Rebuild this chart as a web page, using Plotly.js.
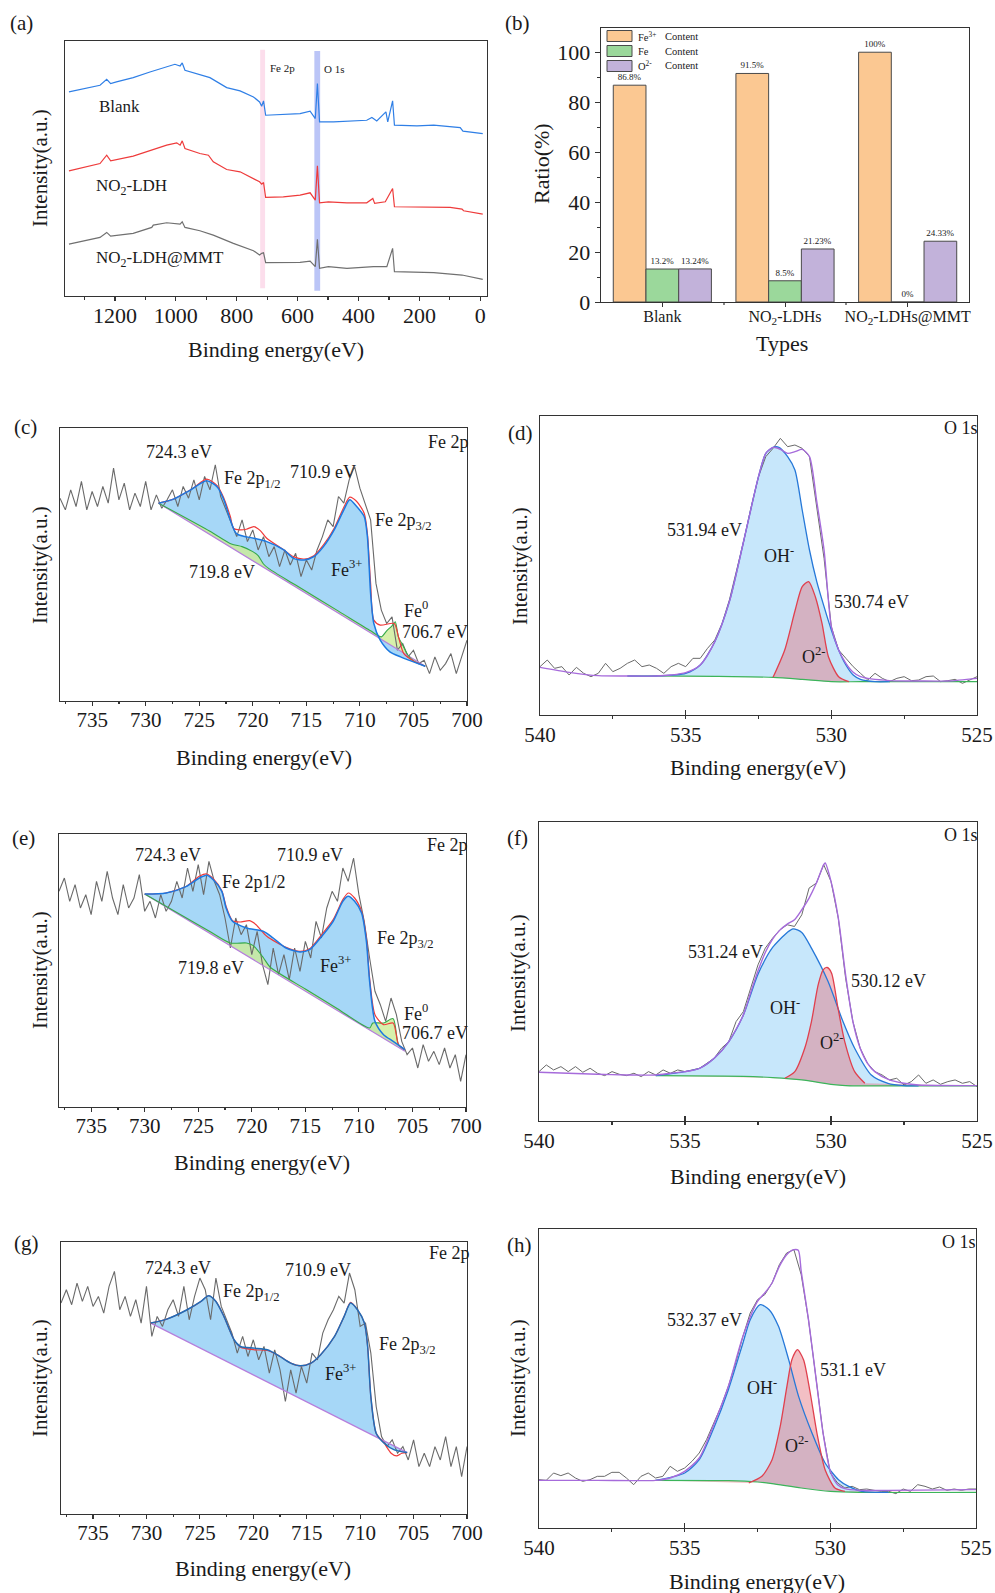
<!DOCTYPE html>
<html><head><meta charset="utf-8">
<script src="https://cdn.plot.ly/plotly-3.0.1.min.js"></script>
<style>html,body{margin:0;padding:0;background:#fff}#chart{width:995px;height:1593px}</style>
</head><body><div id="chart"></div>
<script>
// ---------------- DATA ----------------
// (a) survey spectra: binding energy (eV) / intensity (a.u.)
const A_BLANK_E = [1351,1304,1249,1227,1214,1195,1140,1085,1030,1003,986,979,970,921,888,833,789,745,725,718,712,705,647,592,559,542,535,528,482,373,356,340,310,304,288,282,208,153,66,57,-8];
const A_BLANK_I = [613,623,633,651,638,643,656,673,688,696,691,700,678,666,656,626,616,598,583,570,586,543,545,548,555,533,638,523,523,528,536,526,553,523,586,513,511,513,506,495,488];
const A_NO2_E = [1351,1249,1227,1214,1140,1085,1030,997,986,979,970,921,893,877,833,789,745,725,718,712,705,647,592,559,542,535,528,499,438,373,353,347,312,288,282,208,99,60,55,-8];
const A_NO2_I = [376,398,423,406,420,436,453,460,453,466,443,428,423,403,380,373,353,343,336,341,296,298,303,310,288,391,280,283,280,280,293,278,283,323,268,268,266,261,256,246];
const A_MMT_E = [1351,1249,1227,1214,1140,1079,1074,1030,986,979,970,921,877,811,745,725,718,712,705,592,559,542,535,528,499,438,351,307,288,282,153,60,-8];
const A_MMT_I = [156,176,191,180,188,206,213,220,216,223,206,196,183,158,136,123,128,130,100,101,105,88,170,83,88,83,88,88,143,73,70,63,50];
const A_SERIES = ['Blank','NO<sub>2</sub>-LDH','NO<sub>2</sub>-LDH@MMT'];

// (b) bar chart
const B_CATS = ['Blank','NO<sub>2</sub>-LDHs','NO<sub>2</sub>-LDHs@MMT'];
const B_FE3 = [86.8, 91.5, 100];
const B_FE = [13.2, 8.5, 0];
const B_O2 = [13.24, 21.23, 24.33];
const B_NAMES = ['Fe<sup>3+</sup>','Fe','O<sup>2-</sup>'];

// Fe 2p raw energy grid
const FE_E = [738,737.5,737,736.5,736,735.5,735,734.5,734,733.5,733,732.5,732,731.5,731,730.5,730,729.5,729,728.5,728,727.5,727,726.5,726,725.5,725,724.5,724,723.5,723,722.5,722,721.5,721,720.5,720,719.5,719,718.5,718,717.5,717,716.5,716,715.5,715,714.5,714,713.5,713,712.5,712,711.5,711,710.5,710,709.5,709,708.5,708,707.5,707,706.5,706,705.5,705,704.5,704,703.5,703,702.5,702,701.5,701,700.5,700];
// O 1s raw energy grid
const O_E = [540,539.75,539.5,539.25,539,538.75,538.5,538.25,538,537.75,537.5,537.25,537,536.75,536.5,536.25,536,535.75,535.5,535.25,535,534.75,534.5,534.25,534,533.75,533.5,533.25,533,532.75,532.5,532.25,532,531.75,531.5,531.25,531,530.75,530.5,530.25,530,529.75,529.5,529.25,529,528.75,528.5,528.25,528,527.75,527.5,527.25,527,526.75,526.5,526.25,526,525.75,525.5,525.25,525];

// (c) Fe 2p Blank
const C_RAW = [607,572,632,582,657,572,627,582,642,592,697,602,652,572,622,582,657,572,617,577,602,632,582,642,607,662,602,672,632,707,612,572,527,492,542,477,512,452,492,432,462,402,452,407,442,372,422,392,452,492,542,522,612,592,662,702,637,592,542,352,272,232,252,152,172,132,152,112,122,82,132,92,112,142,82,132,182];
const C_BG_E = [728.8, 703.9];
const C_BG_I = [592, 104];
const C_FE3_E = [728.8,727.4,725.8,724.3,723.3,722.7,722.1,721.5,719.9,718.7,717.1,716.2,715.2,714.3,713.4,712.4,711.5,710.95,710.3,709.6,709.3,709.0,708.7,708.1,707.2,706.2,705.0,703.9];
const C_FE3_I = [592,604,632,659,640,602,542,500,487,477,452,427,422,432,462,512,572,602,582,552,492,322,232,182,147,132,117,104];
const C_ENV_E = [728.8,727.4,725.8,724.3,723.3,722.7,722.1,721.8,721.2,720.6,719.9,719.3,718.7,717.1,716.2,715.2,714.3,713.4,712.4,711.5,710.95,710.3,709.6,709.3,709.0,708.7,708.1,706.8,706.4,705.9,705.0,703.9];
const C_ENV_I = [592,604,632,664,644,607,552,517,512,514,522,510,487,452,432,425,435,467,517,580,610,597,562,502,352,242,227,232,192,142,120,104];
const C_GRN_E = [728.8,724,722,721,720,719.5,719,718.5,716,712,709,708,707.5,707,706.7,706.4,706.0,705.5,705,703.9];
const C_GRN_I = [592,508,470,462,447,435,410,396,347,269,210,192,210,225,237,192,167,137,120,104];

// (e) Fe 2p NO2-LDHs
const E_RAW = [647,687,617,667,597,637,577,677,617,707,627,577,667,597,627,697,587,617,567,637,587,617,677,627,717,647,727,637,737,677,637,567,477,567,517,547,457,527,427,367,477,397,457,382,477,407,497,447,557,507,597,647,617,717,677,747,637,557,447,347,307,257,327,277,197,157,177,117,187,137,167,127,177,117,157,77,157];
const E_BG_E = [730.0, 705.7];
const E_BG_I = [639, 167];
const E_FE3_E = [730.0,728.0,726.1,724.9,724.2,723.6,722.8,722.4,721.8,720.5,718.9,718.0,716.8,715.5,714.6,713.6,712.4,711.5,711.0,710.4,709.75,709.3,709.0,708.5,707.7,706.8,705.7];
const E_FE3_I = [639,642,662,687,695,682,647,597,557,537,527,507,477,465,472,507,557,617,632,617,582,497,377,257,217,197,172];
const E_ENV_E = [730.0,728.0,726.1,724.9,724.2,723.6,722.8,722.4,721.8,721.1,720.2,719.6,718.6,716.8,715.5,714.6,713.6,712.4,711.5,711.0,710.4,709.75,709.3,709.0,708.5,707.7,706.8,706.3,705.7];
const E_ENV_I = [639,642,662,692,699,685,649,602,559,555,559,547,512,479,467,475,512,562,622,642,627,587,507,387,277,247,252,187,172];
const E_GRN_E = [730.0,724,722,720.5,719.9,718.9,718.3,715,712,709,708.7,707.7,706.8,706.3,705.7];
const E_GRN_I = [639,528,492,492,485,447,420,354,295,237,252,252,265,187,172];

// (g) Fe 2p NO2-LDHs@MMT
const G_RAW = [632,672,627,692,637,682,622,652,602,682,727,612,652,592,642,572,682,532,592,562,612,642,592,682,582,652,707,672,582,707,622,582,542,482,532,472,522,462,502,422,492,432,337,432,362,442,392,482,462,542,582,612,652,632,722,672,562,572,482,322,232,202,222,182,202,162,222,142,182,142,202,162,232,142,202,112,202];
const G_BG_E = [729.6, 705.6];
const G_BG_I = [572, 184];
const G_FE3_E = [729.6,728.1,726.2,724.9,724.2,723.5,722.75,721.8,721.2,719.9,718.7,717.75,716.5,715.6,714.6,713.7,712.4,711.5,710.9,710.25,709.6,709.3,709.0,708.5,707.75,706.8,705.6];
const G_FE3_I = [572,584,612,637,654,637,592,522,502,497,492,477,452,444,452,477,532,592,632,612,572,502,352,242,212,192,184];
const G_ENV_E = [729.6,728.1,726.2,724.9,724.2,723.5,722.75,721.8,721.2,719.9,718.7,717.75,716.5,715.6,714.6,713.7,712.4,711.5,710.9,710.25,709.6,709.3,709.0,708.5,707.75,707.1,706.6,706.1,705.6];
const G_ENV_I = [572,584,612,637,654,637,592,522,500,492,490,477,452,444,452,477,532,592,634,612,572,502,352,242,212,182,174,182,184];

// (d) O 1s Blank
const D_RAW = [145,165,140,145,120,143,125,115,125,155,130,140,155,165,145,150,140,125,145,155,145,170,170,200,225,275,345,435,525,625,715,775,800,830,805,810,800,775,615,470,265,195,170,145,125,105,125,110,100,110,115,103,105,115,117,100,103,107,95,105,115];
const D_ENV_E = [540,539,538,537,536,535.5,535,534.5,534,533.5,533,532.5,532.25,532,531.75,531.5,531.25,531,530.75,530.5,530.25,530,529.75,529.5,529.25,529,528,527,526,525];
const D_ENV_I = [143,128,118,117,117,120,127,150,220,340,525,715,785,803,797,785,790,797,775,640,495,265,195,155,128,115,103,102,102,110];
const D_BG_E = [537,536,534,532,531,530,529,525];
const D_BG_I = [117,117,116,113,107,100,100,100];
const D_OH_E = [537,536,535,534.5,534,533.5,533,532.5,532.25,532,531.8,531.5,531.25,531,530.75,530.5,530.25,530,529.75,529.5,529.25,529,528.5,528];
const D_OH_I = [117,117,125,150,220,340,525,715,785,803,803,775,735,615,495,400,325,255,195,150,120,107,100,100];
const D_O2_E = [532,531.6,531.24,531.0,530.78,530.55,530.32,530.1,529.75,529.4];
const D_O2_I = [113,195,315,385,400,355,275,175,115,100];

// (f) O 1s NO2-LDHs
const F_RAW = [148,168,153,163,148,163,146,158,143,136,148,140,136,143,133,148,138,153,143,153,148,153,158,173,188,218,238,298,328,398,468,518,548,573,588,583,618,698,713,768,718,608,428,298,218,173,148,138,123,128,108,118,138,113,123,110,118,123,113,118,103];
const F_ENV_E = [540,539,538,537,536,535.5,535,534.5,534,533.5,533,532.75,532.5,532.25,532,531.75,531.5,531.25,531,530.75,530.5,530.25,530.2,530,529.75,529.5,529.25,529,528.75,528.5,528,527.5,527,525];
const F_ENV_I = [146,143,140,138,138,143,148,158,188,238,318,385,450,505,545,572,590,603,633,668,713,768,773,718,608,438,298,218,173,148,123,113,108,106];
const F_BG_E = [536,533,532,531,530,529.5,528,525];
const F_BG_I = [136,134,130,123,110,106,105,105];
const F_OH_E = [536,535,534.5,534,533.5,533,532.5,532,531.5,531.3,531,530.67,530.1,529.59,529.19,528.62,528.05,527.5,527];
const F_OH_I = [136,148,158,188,238,318,440,520,565,576,565,518,418,298,218,138,113,106,105];
const F_O2_E = [531.58,531.24,530.9,530.67,530.44,530.27,530.13,529.98,529.76,529.53,529.19,528.84];
const F_O2_I = [128,148,218,298,408,453,460,443,338,238,148,113];

// (h) O 1s NO2-LDHs@MMT
const H_RAW = [145,143,165,157,165,150,140,145,155,155,167,167,150,130,155,165,150,155,185,170,180,200,225,265,315,365,425,495,575,645,685,700,735,790,825,835,760,625,455,285,165,135,120,125,115,117,113,110,110,103,117,110,130,125,117,123,113,117,113,117,117];
const H_ENV_E = [540,538,536,535.5,535,534.5,534,533.5,533,532.5,532.25,532,531.75,531.5,531.25,531.1,531,530.75,530.5,530.25,530,529.75,529.5,529,528,525];
const H_ENV_I = [143,143,143,150,170,210,310,425,575,680,705,735,785,820,835,833,770,625,455,285,170,130,118,113,113,115];
const H_BG_E = [536,533.5,532.5,532,531,530,529,525];
const H_BG_I = [143,142,138,133,120,110,107,107];
const H_OH_E = [536,535,534.5,534,533.5,533,532.75,532.41,532.1,531.78,531.43,531.09,530.63,530.18,529.72,529.37,528.92,528];
const H_OH_I = [143,165,205,300,415,555,625,670,655,605,505,395,285,195,145,125,110,107];
const H_O2_E = [532.8,532.35,532.0,531.72,531.49,531.32,531.13,530.92,530.69,530.46,530.18,529.84,529.5];
const H_O2_I = [135,155,205,305,425,505,535,505,405,285,175,120,110];

// ---------------- LAYOUT HELPERS ----------------
const W = 995, H = 1593;
const px = v => v / W;
const py = v => 1 - v / H;
const FONT = 'Liberation Serif, Times New Roman, serif';
const TXT = '#1a1a1a';
const AX = '#333';

const traces = [];
const annotations = [];
const shapes = [];
const layout = {
  width: W, height: H, margin: {l:0, r:0, t:0, b:0},
  paper_bgcolor: '#fff', plot_bgcolor: '#fff',
  font: {family: FONT, color: TXT},
  showlegend: false, barmode: 'group', bargap: 0.2, bargroupgap: 0,
};

function ann(text, x, y, size, extra) {
  annotations.push(Object.assign({text, x: px(x), y: py(y), xref: 'paper', yref: 'paper',
    showarrow: false, xanchor: 'left', yanchor: 'middle', font: {family: FONT, size, color: TXT}}, extra || {}));
}

function setAxes(n, box, xr, yr, xopts) {
  const xn = n === 1 ? 'xaxis' : 'xaxis' + n;
  const yn = n === 1 ? 'yaxis' : 'yaxis' + n;
  const xid = n === 1 ? 'x' : 'x' + n;
  const yid = n === 1 ? 'y' : 'y' + n;
  layout[xn] = Object.assign({
    domain: [px(box[0]), px(box[1])], range: xr, autorange: false, anchor: yid,
    showgrid: false, zeroline: false, showline: true, mirror: true, linecolor: AX, linewidth: 1.4,
    ticks: 'outside', ticklen: 4, tickwidth: 1.2, tickcolor: AX, ticklabelstandoff: -5,
    tickfont: {family: FONT, size: 21, color: TXT}
  }, xopts || {});
  layout[yn] = {
    domain: [py(box[3]), py(box[2])], range: yr, autorange: false, anchor: xid,
    showgrid: false, zeroline: false, showline: true, mirror: true, linecolor: AX, linewidth: 1.4,
    showticklabels: false, ticks: ''
  };
  return {xaxis: xid, yaxis: yid};
}

function ln(ax, x, y, color, width, spline) {
  traces.push(Object.assign({type: 'scatter', mode: 'lines', x, y, hoverinfo: 'skip',
    line: {color, width, shape: spline ? 'spline' : 'linear', smoothing: 0.7}}, ax));
}
function base(ax, x, y) {
  traces.push(Object.assign({type: 'scatter', mode: 'lines', x, y, hoverinfo: 'skip', line: {width: 0}}, ax));
}
function fillTo(ax, x, y, color) {
  traces.push(Object.assign({type: 'scatter', mode: 'lines', x, y, hoverinfo: 'skip', fill: 'tonexty',
    fillcolor: color, line: {width: 0, shape: 'spline', smoothing: 0.7}}, ax));
}

// ---------------- (a) ----------------
{
  const ax = setAxes(1, [65, 487, 41, 296], [1364, -22], [0, 766],
    {dtick: 200, tick0: 0, tickfont: {family: FONT, size: 22, color: TXT},
     minor: {dtick: 100, ticks: 'outside', ticklen: 3, tickcolor: AX}});
  shapes.push({type: 'rect', xref: 'x', yref: 'y', x0: 723, x1: 707, y0: 23, y1: 740,
    fillcolor: 'rgba(250,195,220,0.55)', line: {width: 0}, layer: 'below'});
  shapes.push({type: 'rect', xref: 'x', yref: 'y', x0: 545, x1: 526, y0: 16, y1: 736,
    fillcolor: 'rgba(120,140,240,0.5)', line: {width: 0}, layer: 'below'});
  ln(ax, A_BLANK_E, A_BLANK_I, '#2F7FE6', 1.2);
  ln(ax, A_NO2_E, A_NO2_I, '#EE3B3B', 1.2);
  ln(ax, A_MMT_E, A_MMT_I, '#707070', 1.2);
  ann(A_SERIES[0], 97, 106, 17);
  ann(A_SERIES[1], 94, 187, 17);
  ann(A_SERIES[2], 94, 259, 17);
  ann('Fe 2p', 268, 68, 11);
  ann('O 1s', 322, 69, 11);
  ann('(a)', 8, 23, 21);
  ann('Intensity(a.u.)', 40, 168, 21, {textangle: -90, xanchor: 'center'});
  ann('Binding energy(eV)', 276, 350, 22, {xanchor: 'center'});
}

// ---------------- (b) ----------------
{
  layout.xaxis2 = {
    domain: [px(601), px(969)], range: [-0.5, 2.5], autorange: false, anchor: 'y2', type: 'category',
    showgrid: false, zeroline: false, showline: true, mirror: true, linecolor: AX, linewidth: 1.4,
    ticks: 'outside', ticklen: 4, tickcolor: AX, ticklabelstandoff: -5,
    tickfont: {family: FONT, size: 16, color: TXT}
  };
  layout.yaxis2 = {
    domain: [py(302), py(28)], range: [0, 109.7], autorange: false, anchor: 'x2',
    showgrid: false, zeroline: false, showline: true, mirror: true, linecolor: AX, linewidth: 1.4,
    ticks: 'outside', ticklen: 5, tickcolor: AX, dtick: 20, tick0: 0,
    minor: {dtick: 10, ticks: 'outside', ticklen: 3, tickcolor: AX},
    tickfont: {family: FONT, size: 22, color: TXT}
  };
  // minor ticks between categories
  [724, 846].forEach(x => shapes.push({type: 'line', xref: 'paper', yref: 'paper',
    x0: px(x), x1: px(x), y0: py(302), y1: py(305), line: {color: AX, width: 1.2}}));
  const cols = ['#FBC892', '#9BD89B', '#C2B2DA'];
  [B_FE3, B_FE, B_O2].forEach((vals, i) => {
    traces.push({type: 'bar', x: B_CATS, y: vals, xaxis: 'x2', yaxis: 'y2', name: B_NAMES[i],
      marker: {color: cols[i], line: {color: '#4a4a4a', width: 1}},
      text: vals.map(v => v + '%'), textposition: 'outside', cliponaxis: false,
      textfont: {family: FONT, size: 9, color: TXT}, hoverinfo: 'skip'});
  });
  const ly = [36, 51, 66];
  ly.forEach((y, i) => {
    shapes.push({type: 'rect', xref: 'paper', yref: 'paper', x0: px(607), x1: px(632),
      y0: py(y + 5.5), y1: py(y - 5.5), fillcolor: cols[i], line: {color: '#4a4a4a', width: 1}});
    ann(B_NAMES[i], 636, y, 10.5);
    ann('Content', 663, y, 10.5);
  });
  ann('(b)', 503, 23, 21);
  ann('Ratio(%)', 542, 164, 22, {textangle: -90, xanchor: 'center'});
  ann('Types', 782, 343, 22, {xanchor: 'center'});
}

// ---------------- Fe 2p panels ----------------
function fePanel(n, box, yr, raw, bgE, bgI, fe3E, fe3I, grnE, grnI, envE, envI, blue) {
  const ax = setAxes(n, box, [738, 700], yr,
    {dtick: 5, tick0: 0, minor: {dtick: 2.5, ticks: 'outside', ticklen: 2, tickcolor: AX}});
  base(ax, bgE, bgI);
  fillTo(ax, fe3E, fe3I, 'rgba(150,208,246,0.85)');
  if (grnE) { base(ax, bgE, bgI); fillTo(ax, grnE, grnI, 'rgba(205,236,150,0.8)'); }
  ln(ax, FE_E, raw, '#6a6a6a', 1.1);
  ln(ax, bgE, bgI, '#B57EDC', 1.2);
  if (grnE) ln(ax, grnE, grnI, '#36A84A', 1.1, true);
  ln(ax, envE, envI, '#F03A3A', 1.2, true);
  ln(ax, fe3E, fe3I, blue, 1.5, true);
}
fePanel(3, [60, 467, 428, 701], [0, 817], C_RAW, C_BG_E, C_BG_I, C_FE3_E, C_FE3_I, C_GRN_E, C_GRN_I, C_ENV_E, C_ENV_I, '#1C78E0');
fePanel(5, [59, 466, 834, 1107], [0, 819], E_RAW, E_BG_E, E_BG_I, E_FE3_E, E_FE3_I, E_GRN_E, E_GRN_I, E_ENV_E, E_ENV_I, '#1C78E0');
fePanel(7, [61, 467, 1242, 1514], [0, 815], G_RAW, G_BG_E, G_BG_I, G_FE3_E, G_FE3_I, null, null, G_ENV_E, G_ENV_I, '#1F6DB8');

// (c) labels
ann('(c)', 12, 427, 21);
ann('724.3 eV', 144, 452, 18); ann('Fe 2p<sub>1/2</sub>', 222, 479, 18);
ann('710.9 eV', 288, 472, 18); ann('Fe 2p<sub>3/2</sub>', 373, 521, 18);
ann('719.8 eV', 187, 572, 18); ann('Fe<sup>3+</sup>', 329, 569, 18);
ann('Fe<sup>0</sup>', 402, 609, 18); ann('706.7 eV', 400, 632, 18);
ann('Fe 2p', 426, 442, 18);
ann('Intensity(a.u.)', 40, 565, 21, {textangle: -90, xanchor: 'center'});
ann('Binding energy(eV)', 264, 757, 22, {xanchor: 'center'});
// (e) labels
ann('(e)', 10, 838, 21);
ann('724.3 eV', 133, 855, 18); ann('Fe 2p1/2', 220, 882, 18);
ann('710.9 eV', 275, 855, 18); ann('Fe 2p<sub>3/2</sub>', 375, 939, 18);
ann('719.8 eV', 176, 968, 18); ann('Fe<sup>3+</sup>', 318, 964, 18);
ann('Fe<sup>0</sup>', 402, 1012, 18); ann('706.7 eV', 400, 1033, 18);
ann('Fe 2p', 425, 845, 18);
ann('Intensity(a.u.)', 40, 970, 21, {textangle: -90, xanchor: 'center'});
ann('Binding energy(eV)', 262, 1162, 22, {xanchor: 'center'});
// (g) labels
ann('(g)', 12, 1243, 21);
ann('724.3 eV', 143, 1268, 18); ann('Fe 2p<sub>1/2</sub>', 221, 1292, 18);
ann('710.9 eV', 283, 1270, 18); ann('Fe 2p<sub>3/2</sub>', 377, 1345, 18);
ann('Fe<sup>3+</sup>', 323, 1372, 18);
ann('Fe 2p', 427, 1253, 18);
ann('Intensity(a.u.)', 40, 1378, 21, {textangle: -90, xanchor: 'center'});
ann('Binding energy(eV)', 263, 1568, 22, {xanchor: 'center'});

// ---------------- O 1s panels ----------------
function oPanel(n, box, yr, raw, envE, envI, bgE, bgI, ohE, ohI, o2E, o2I) {
  const ax = setAxes(n, box, [540, 525], yr,
    {dtick: 5, tick0: 0, ticks: 'inside', ticklen: 5, ticklabelstandoff: 0,
     minor: {dtick: 2.5, ticks: 'outside', ticklen: 3, tickcolor: AX}});
  base(ax, bgE, bgI);
  fillTo(ax, ohE, ohI, 'rgba(185,225,250,0.8)');
  base(ax, bgE, bgI);
  fillTo(ax, o2E, o2I, 'rgba(228,112,124,0.45)');
  ln(ax, O_E, raw, '#6a6a6a', 1.0);
  ln(ax, bgE, bgI, '#3CB45A', 1.2, true);
  ln(ax, ohE, ohI, '#2678D8', 1.3, true);
  ln(ax, o2E, o2I, '#E0404E', 1.3, true);
  ln(ax, envE, envI, '#A66BDB', 1.4, true);
}
oPanel(4, [540, 977, 416, 715], [0, 897], D_RAW, D_ENV_E, D_ENV_I, D_BG_E, D_BG_I, D_OH_E, D_OH_I, D_O2_E, D_O2_I);
oPanel(6, [539, 977, 822, 1121], [0, 896], F_RAW, F_ENV_E, F_ENV_I, F_BG_E, F_BG_I, F_OH_E, F_OH_I, F_O2_E, F_O2_I);
oPanel(8, [539, 976, 1229, 1528], [0, 897], H_RAW, H_ENV_E, H_ENV_I, H_BG_E, H_BG_I, H_OH_E, H_OH_I, H_O2_E, H_O2_I);

ann('(d)', 506, 433, 21);
ann('531.94 eV', 665, 530, 18); ann('OH<sup>-</sup>', 762, 554, 18);
ann('530.74 eV', 832, 602, 18); ann('O<sup>2-</sup>', 800, 655, 18);
ann('O 1s', 942, 428, 18);
ann('Intensity(a.u.)', 520, 566, 21, {textangle: -90, xanchor: 'center'});
ann('Binding energy(eV)', 758, 768, 22, {xanchor: 'center'});

ann('(f)', 505, 838, 21);
ann('531.24 eV', 686, 952, 18); ann('OH<sup>-</sup>', 768, 1006, 18);
ann('530.12 eV', 849, 981, 18); ann('O<sup>2-</sup>', 818, 1041, 18);
ann('O 1s', 942, 835, 18);
ann('Intensity(a.u.)', 518, 973, 21, {textangle: -90, xanchor: 'center'});
ann('Binding energy(eV)', 758, 1176, 22, {xanchor: 'center'});

ann('(h)', 505, 1245, 21);
ann('532.37 eV', 665, 1320, 18); ann('OH<sup>-</sup>', 745, 1386, 18);
ann('531.1 eV', 818, 1370, 18); ann('O<sup>2-</sup>', 783, 1444, 18);
ann('O 1s', 940, 1242, 18);
ann('Intensity(a.u.)', 518, 1378, 21, {textangle: -90, xanchor: 'center'});
ann('Binding energy(eV)', 757, 1581, 22, {xanchor: 'center'});

layout.annotations = annotations;
layout.shapes = shapes;
Plotly.newPlot('chart', traces, layout, {displayModeBar: false, staticPlot: true});
</script>
</body></html>
